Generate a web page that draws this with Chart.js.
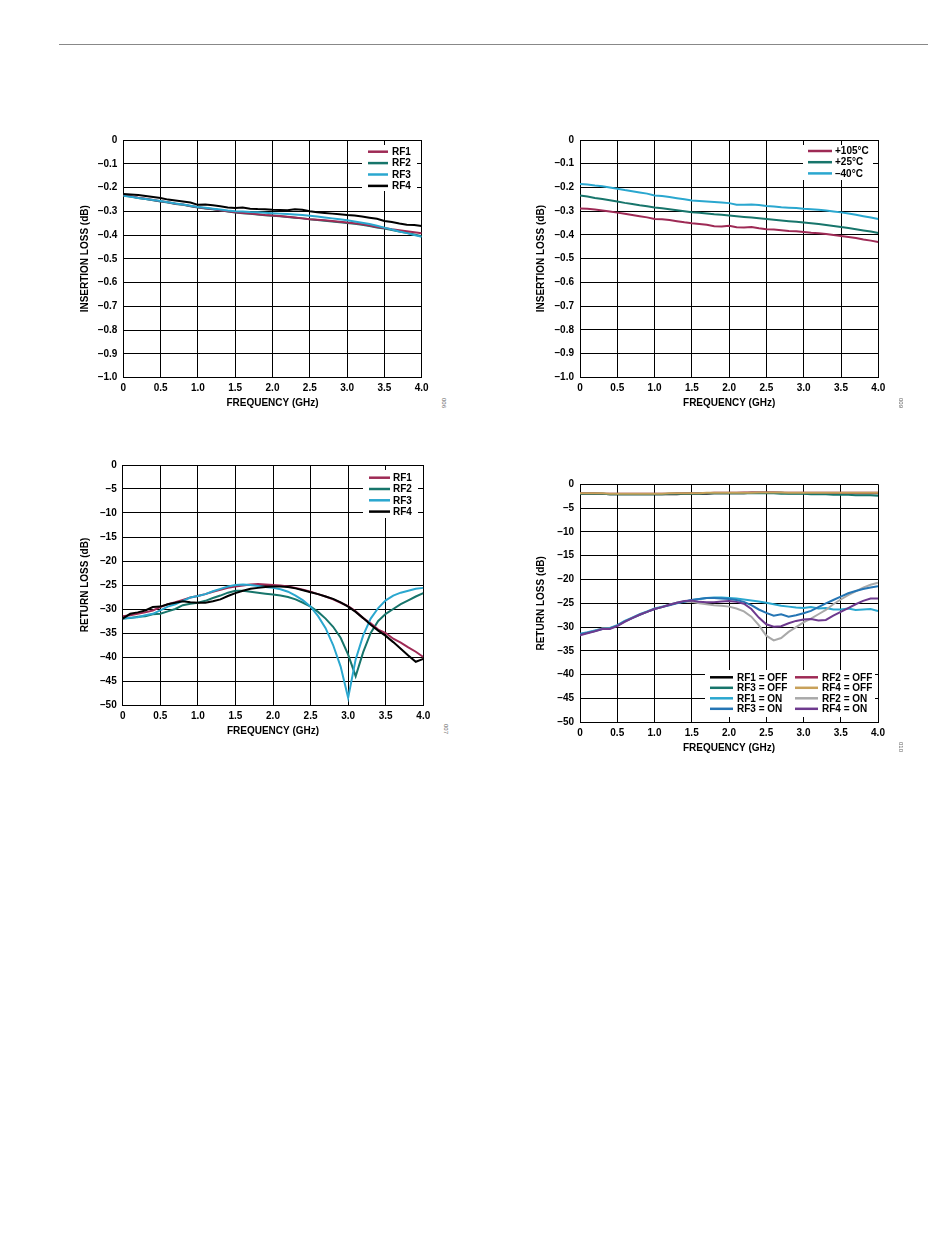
<!DOCTYPE html>
<html>
<head>
<meta charset="utf-8">
<script src="https://cdn.jsdelivr.net/npm/chart.js@4.4.1/dist/chart.umd.min.js"></script>
<style>
  body { margin: 0; background: #fff; width: 950px; height: 1248px; position: relative; overflow: hidden; }
  .rule { position: absolute; left: 59px; top: 44px; width: 869px; height: 1px; background: #888; }
  canvas { position: absolute; }
  .fig { position: absolute; font: 6px "Liberation Sans", Arial, sans-serif; color: #666; transform: rotate(90deg); transform-origin: left top; }
</style>
</head>
<body>
<div class="rule"></div>
<canvas id="c1" width="380" height="290" style="left:60px;top:128px"></canvas>
<canvas id="c2" width="380" height="290" style="left:520px;top:128px"></canvas>
<canvas id="c3" width="380" height="290" style="left:60px;top:453px"></canvas>
<canvas id="c4" width="380" height="290" style="left:520px;top:472px"></canvas>
<div class="fig" style="left:447px;top:398px">006</div>
<div class="fig" style="left:904px;top:398px">009</div>
<div class="fig" style="left:449px;top:724px">007</div>
<div class="fig" style="left:904px;top:742px">010</div>
<script>
// frecuencia común (GHz)
const freq = [0, 0.1, 0.2, 0.3, 0.4, 0.5, 0.6, 0.7, 0.8, 0.9, 1.0, 1.1, 1.2, 1.3, 1.4, 1.5, 1.6, 1.7, 1.8, 1.9,
  2.0, 2.1, 2.2, 2.3, 2.4, 2.5, 2.6, 2.7, 2.8, 2.9, 3.0, 3.1, 3.2, 3.3, 3.4, 3.5, 3.6, 3.7, 3.8, 3.9, 4.0];

// insertion loss por puerto (dB)
const ilRF1 = [-0.233, -0.237, -0.243, -0.247, -0.253, -0.258, -0.262, -0.268, -0.272, -0.278, -0.283, -0.287, -0.291, -0.296, -0.300, -0.304, -0.307, -0.310, -0.313, -0.316,
  -0.318, -0.320, -0.323, -0.326, -0.330, -0.334, -0.336, -0.338, -0.341, -0.344, -0.347, -0.351, -0.355, -0.360, -0.366, -0.371, -0.376, -0.380, -0.384, -0.388, -0.393];
const ilRF2 = [-0.234, -0.238, -0.244, -0.248, -0.254, -0.259, -0.263, -0.269, -0.273, -0.279, -0.284, -0.288, -0.292, -0.296, -0.301, -0.305, -0.308, -0.311, -0.314, -0.317,
  -0.319, -0.321, -0.324, -0.327, -0.330, -0.334, -0.337, -0.340, -0.343, -0.346, -0.349, -0.353, -0.357, -0.362, -0.368, -0.373, -0.379, -0.385, -0.391, -0.398, -0.405];
const ilRF3 = [-0.235, -0.239, -0.244, -0.248, -0.253, -0.257, -0.262, -0.267, -0.272, -0.277, -0.282, -0.285, -0.289, -0.293, -0.297, -0.300, -0.301, -0.303, -0.304, -0.306,
  -0.308, -0.310, -0.312, -0.314, -0.316, -0.319, -0.322, -0.326, -0.330, -0.334, -0.338, -0.343, -0.348, -0.354, -0.361, -0.369, -0.377, -0.385, -0.392, -0.400, -0.408];
const ilRF4 = [-0.227, -0.229, -0.232, -0.236, -0.240, -0.244, -0.251, -0.255, -0.259, -0.263, -0.273, -0.272, -0.275, -0.279, -0.284, -0.286, -0.284, -0.289, -0.291, -0.292,
  -0.294, -0.295, -0.296, -0.292, -0.294, -0.300, -0.304, -0.307, -0.310, -0.313, -0.316, -0.318, -0.322, -0.327, -0.332, -0.341, -0.345, -0.352, -0.357, -0.358, -0.362];

// insertion loss por temperatura (dB)
const ilHot = [-0.289, -0.290, -0.293, -0.297, -0.301, -0.306, -0.311, -0.316, -0.321, -0.326, -0.333, -0.334, -0.337, -0.342, -0.347, -0.351, -0.354, -0.357, -0.363, -0.364,
  -0.361, -0.368, -0.369, -0.367, -0.372, -0.376, -0.377, -0.380, -0.383, -0.385, -0.388, -0.391, -0.393, -0.396, -0.400, -0.405, -0.409, -0.413, -0.419, -0.424, -0.430];
const ilRoom = [-0.234, -0.238, -0.244, -0.249, -0.254, -0.259, -0.265, -0.270, -0.275, -0.279, -0.284, -0.288, -0.292, -0.296, -0.300, -0.304, -0.307, -0.310, -0.313, -0.315,
  -0.318, -0.321, -0.324, -0.327, -0.330, -0.333, -0.336, -0.339, -0.342, -0.345, -0.348, -0.351, -0.354, -0.358, -0.362, -0.367, -0.371, -0.376, -0.381, -0.386, -0.392];
const ilCold = [-0.185, -0.188, -0.192, -0.195, -0.200, -0.205, -0.211, -0.216, -0.221, -0.226, -0.234, -0.236, -0.240, -0.245, -0.250, -0.255, -0.257, -0.259, -0.261, -0.263,
  -0.266, -0.273, -0.273, -0.272, -0.274, -0.278, -0.280, -0.283, -0.285, -0.287, -0.290, -0.292, -0.294, -0.297, -0.301, -0.305, -0.310, -0.315, -0.321, -0.327, -0.333];

// return loss por puerto (dB)
const rlRF1 = [-31.5, -31.3, -31.0, -30.7, -30.3, -29.6, -29.0, -28.6, -28.1, -27.6, -27.3, -26.9, -26.4, -26.0, -25.6, -25.3, -25.1, -24.9, -24.8, -24.9,
  -25.0, -25.1, -25.3, -25.6, -26.0, -26.4, -26.9, -27.4, -28.0, -28.7, -29.4, -30.5, -31.9, -33.0, -34.3, -35.0, -36.2, -37.0, -38.0, -38.9, -40.0];
const rlRF2 = [-32.0, -31.9, -31.6, -31.5, -31.1, -31.0, -30.5, -30.0, -29.2, -28.9, -28.7, -28.3, -27.7, -27.2, -26.6, -26.2, -26.2, -26.4, -26.6, -26.8,
  -27.0, -27.2, -27.5, -28.0, -28.7, -29.5, -30.6, -32.0, -33.7, -36.0, -39.5, -44.0, -39.0, -35.0, -32.5, -31.0, -30.0, -29.0, -28.2, -27.4, -26.7];
const rlRF3 = [-32.0, -31.8, -31.7, -31.3, -31.0, -30.3, -29.5, -29.0, -28.3, -27.6, -27.3, -26.9, -26.3, -25.8, -25.3, -25.0, -24.9, -25.0, -25.2, -25.4,
  -25.6, -25.9, -26.4, -27.2, -28.2, -29.5, -31.5, -34.0, -37.5, -42.0, -48.5, -40.5, -35.5, -32.0, -29.8, -28.2, -27.2, -26.6, -26.2, -25.8, -25.6];
const rlRF4 = [-32.0, -31.0, -30.7, -30.3, -29.6, -29.5, -29.0, -28.7, -28.4, -28.6, -28.7, -28.7, -28.4, -28.0, -27.3, -26.7, -26.2, -25.8, -25.6, -25.4,
  -25.3, -25.3, -25.4, -25.7, -26.1, -26.5, -26.9, -27.4, -27.9, -28.6, -29.5, -30.6, -31.9, -33.3, -34.5, -35.6, -36.9, -38.3, -39.7, -41.0, -40.4];

// return loss con puertos OFF / ON (dB)
const offRF1 = [-2.0, -2.0, -2.0, -2.0, -2.1, -2.1, -2.1, -2.1, -2.1, -2.1, -2.1, -2.1, -2.1, -2.1, -2.0, -2.0, -2.0, -2.0, -1.9, -1.9,
  -1.9, -1.9, -1.9, -1.8, -1.8, -1.8, -1.8, -1.8, -1.9, -1.9, -1.9, -1.9, -1.9, -1.9, -1.9, -1.9, -1.9, -1.9, -1.9, -1.9, -1.9];
const offRF2 = [-1.9, -1.9, -1.9, -2.0, -2.0, -2.0, -2.0, -2.0, -2.0, -2.0, -2.0, -2.0, -2.0, -1.9, -1.9, -1.9, -1.9, -1.9, -1.8, -1.8,
  -1.8, -1.8, -1.7, -1.7, -1.7, -1.7, -1.7, -1.8, -1.8, -1.8, -1.8, -1.8, -1.8, -1.8, -1.8, -1.8, -1.8, -1.8, -1.8, -1.8, -1.8];
const offRF3 = [-2.0, -2.0, -2.0, -2.0, -2.1, -2.1, -2.1, -2.1, -2.1, -2.1, -2.1, -2.1, -2.0, -2.0, -2.0, -2.0, -2.0, -1.9, -1.9, -1.9,
  -1.9, -1.9, -1.9, -1.9, -1.9, -1.9, -1.9, -2.0, -2.0, -2.0, -2.0, -2.1, -2.1, -2.1, -2.2, -2.2, -2.2, -2.3, -2.3, -2.3, -2.4];
const offRF4 = [-1.9, -1.9, -1.9, -1.9, -2.0, -2.0, -2.0, -2.0, -2.0, -2.0, -2.0, -2.0, -1.9, -1.9, -1.9, -1.9, -1.9, -1.8, -1.8, -1.8,
  -1.8, -1.8, -1.8, -1.8, -1.7, -1.7, -1.7, -1.7, -1.8, -1.8, -1.8, -1.8, -1.8, -1.8, -1.8, -1.8, -1.8, -1.8, -1.8, -1.8, -1.8];
const onRF1 = [-31.4, -31.1, -30.7, -30.3, -30.2, -29.6, -28.7, -28.0, -27.3, -26.7, -26.1, -25.7, -25.3, -24.9, -24.6, -24.3, -24.1, -23.9, -23.8, -23.8,
  -23.9, -24.0, -24.2, -24.4, -24.6, -24.9, -25.2, -25.5, -25.7, -25.9, -26.0, -25.8, -26.1, -26.0, -26.3, -26.3, -26.1, -26.4, -26.3, -26.2, -26.6];
const onRF2 = [-31.6, -31.2, -30.8, -30.3, -30.3, -29.7, -28.8, -28.1, -27.4, -26.8, -26.2, -25.8, -25.3, -24.9, -24.6, -24.7, -25.0, -25.2, -25.4, -25.5,
  -25.7, -26.1, -26.7, -27.8, -29.6, -31.8, -32.8, -32.3, -31.0, -30.0, -29.0, -28.2, -27.3, -26.4, -25.2, -24.2, -23.3, -22.5, -21.7, -21.1, -20.7];
const onRF3 = [-31.5, -31.2, -30.8, -30.4, -30.3, -29.7, -28.8, -28.1, -27.4, -26.8, -26.2, -25.8, -25.4, -25.0, -24.7, -24.3, -24.1, -23.9, -23.9, -24.0,
  -24.1, -24.3, -24.7, -25.4, -26.3, -27.0, -27.6, -27.3, -27.8, -27.5, -27.1, -26.6, -25.8, -25.0, -24.3, -23.6, -22.9, -22.4, -22.0, -21.7, -21.4];
const onRF4 = [-31.7, -31.3, -30.9, -30.4, -30.4, -29.8, -28.9, -28.1, -27.4, -26.8, -26.2, -25.8, -25.3, -24.9, -24.5, -24.4, -24.7, -24.8, -24.8, -24.6,
  -24.5, -24.7, -25.1, -26.2, -28.0, -29.4, -29.9, -29.8, -29.2, -28.7, -28.4, -28.3, -28.6, -28.5, -27.6, -26.8, -26.0, -25.2, -24.5, -24.0, -24.0];

const MAROON = '#9e2a55', TEAL = '#17756b', CYAN = '#2aa7cf', BLACK = '#000000';
const TAN = '#c8a15a', GRAY = '#a9a9a9', BLUE = '#2575b4', PURPLE = '#6e3a8e';
const DASH = '\u2013';

Chart.defaults.font.family = '"Liberation Sans", Arial, sans-serif';
Chart.defaults.font.size = 10;
Chart.defaults.font.weight = 'bold';
Chart.defaults.color = '#000';

// leyenda dentro del área del gráfico, con fondo blanco
const boxLegend = {
  id: 'boxLegend',
  afterDatasetsDraw(chart, args, o) {
    const { ctx, chartArea: a } = chart;
    ctx.save();
    ctx.fillStyle = '#fff';
    ctx.fillRect(a.left + o.box[0], a.top + o.box[1], o.box[2], o.box[3]);
    ctx.font = 'bold 10px "Liberation Sans", Arial, sans-serif';
    ctx.textBaseline = 'middle';
    ctx.lineWidth = 2.5;
    chart.data.datasets.forEach((ds, i) => {
      const col = i % o.cols, row = Math.floor(i / o.cols);
      const x = a.left + o.x + col * o.colW;
      const y = a.top + o.y + row * o.dy;
      ctx.strokeStyle = ds.borderColor;
      ctx.beginPath();
      ctx.moveTo(x, y);
      ctx.lineTo(x + o.len, y);
      ctx.stroke();
      ctx.fillStyle = '#000';
      ctx.fillText(ds.label, x + o.len + o.gap, y + 0.5);
    });
    ctx.restore();
  }
};

function yLabel(dec) {
  return v => Math.abs(v) < 1e-9 ? '0' : DASH + Math.abs(v).toFixed(dec);
}

function drawChart(id, spec) {
  new Chart(document.getElementById(id), {
    type: 'line',
    data: {
      datasets: spec.series.map((s, k) => ({
        label: s.label,
        data: freq.map((f, i) => ({ x: f, y: s.values[i] })),
        borderColor: s.color,
        borderWidth: 2,
        pointRadius: 0,
        tension: 0,
        order: s.order !== undefined ? s.order : k
      }))
    },
    options: {
      responsive: false,
      animation: false,
      layout: { padding: { top: spec.padTop, right: spec.padRight, left: 0, bottom: 0 } },
      plugins: {
        legend: { display: false },
        tooltip: { enabled: false },
        boxLegend: spec.legend
      },
      scales: {
        x: {
          type: 'linear', min: 0, max: 4,
          ticks: { stepSize: 0.5, padding: 5, maxRotation: 0, autoSkip: false,
            callback: v => v === 0 ? '0' : v.toFixed(1) },
          grid: { color: '#000', drawTicks: false },
          border: { color: '#000' },
          title: { display: true, text: 'FREQUENCY (GHz)', padding: { top: 0, bottom: spec.xTitlePad } },
          afterFit: s => { s.height = spec.xHeight; }
        },
        y: {
          min: spec.yMin, max: 0,
          ticks: { stepSize: spec.yStep, padding: 6, autoSkip: false, callback: yLabel(spec.yDec) },
          grid: { color: '#000', drawTicks: false },
          border: { color: '#000' },
          title: { display: true, text: spec.yTitle, padding: { top: spec.yTitlePad, bottom: 0 } },
          afterFit: s => { s.width = spec.yWidth; }
        }
      }
    },
    plugins: [boxLegend]
  });
}

drawChart('c1', {
  series: [
    { label: 'RF1', values: ilRF1, color: MAROON, order: 2 },
    { label: 'RF2', values: ilRF2, color: TEAL, order: 3 },
    { label: 'RF3', values: ilRF3, color: CYAN, order: 1 },
    { label: 'RF4', values: ilRF4, color: BLACK, order: 0 }
  ],
  yMin: -1, yStep: 0.1, yDec: 1, yTitle: 'INSERTION LOSS (dB)',
  yWidth: 63.3, xHeight: 40.5, padTop: 12, padRight: 18.3, yTitlePad: 19, xTitlePad: 8.7,
  legend: { box: [238.7, 5, 55, 46], x: 244.7, y: 11.7, dy: 11.4, len: 20, gap: 4, cols: 1, colW: 0 }
});

drawChart('c2', {
  series: [
    { label: '+105°C', values: ilHot, color: MAROON },
    { label: '+25°C', values: ilRoom, color: TEAL },
    { label: DASH + '40°C', values: ilCold, color: CYAN }
  ],
  yMin: -1, yStep: 0.1, yDec: 1, yTitle: 'INSERTION LOSS (dB)',
  yWidth: 60, xHeight: 40.7, padTop: 12, padRight: 21.7, yTitlePad: 15.7, xTitlePad: 8.7,
  legend: { box: [223, 5, 70, 35], x: 228, y: 11, dy: 11.2, len: 24, gap: 3, cols: 1, colW: 0 }
});

drawChart('c3', {
  series: [
    { label: 'RF1', values: rlRF1, color: MAROON, order: 2 },
    { label: 'RF2', values: rlRF2, color: TEAL, order: 3 },
    { label: 'RF3', values: rlRF3, color: CYAN, order: 1 },
    { label: 'RF4', values: rlRF4, color: BLACK, order: 0 }
  ],
  yMin: -50, yStep: 5, yDec: 0, yTitle: 'RETURN LOSS (dB)',
  yWidth: 62.7, xHeight: 38, padTop: 12, padRight: 16.7, yTitlePad: 19, xTitlePad: 5.3,
  legend: { box: [240.3, 5, 55, 48], x: 246.3, y: 12.7, dy: 11.3, len: 21, gap: 3, cols: 1, colW: 0 }
});

drawChart('c4', {
  series: [
    { label: 'RF1 = OFF', values: offRF1, color: BLACK, order: 7 },
    { label: 'RF2 = OFF', values: offRF2, color: MAROON, order: 6 },
    { label: 'RF3 = OFF', values: offRF3, color: TEAL, order: 5 },
    { label: 'RF4 = OFF', values: offRF4, color: TAN, order: 4 },
    { label: 'RF1 = ON', values: onRF1, color: CYAN, order: 3 },
    { label: 'RF2 = ON', values: onRF2, color: GRAY, order: 2 },
    { label: 'RF3 = ON', values: onRF3, color: BLUE, order: 1 },
    { label: 'RF4 = ON', values: onRF4, color: PURPLE, order: 0 }
  ],
  yMin: -50, yStep: 5, yDec: 0, yTitle: 'RETURN LOSS (dB)',
  yWidth: 60, xHeight: 39.7, padTop: 12.3, padRight: 22, yTitlePad: 15.7, xTitlePad: 7.7,
  legend: { box: [125, 185.7, 170, 47], x: 130, y: 193, dy: 10.5, len: 23, gap: 4, cols: 2, colW: 85 }
});
</script>
</body>
</html>
